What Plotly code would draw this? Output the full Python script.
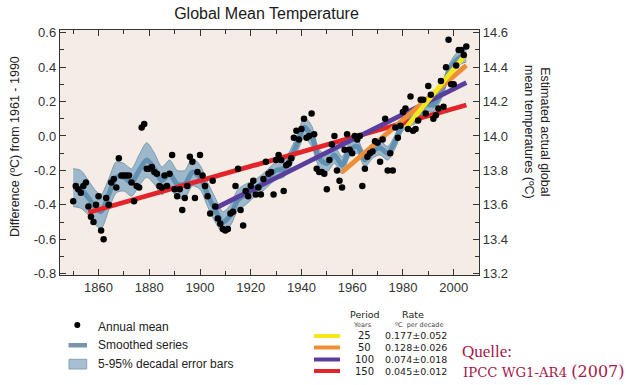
import plotly.graph_objects as go

# ---------------- data ----------------
years = list(range(1850, 2006))
annual_mean = [
    -0.38, -0.29, -0.31, -0.33, -0.29, -0.27, -0.41, -0.47, -0.50, -0.40,   # 1850s
    -0.35, -0.55, -0.60, -0.36, -0.40, -0.27, -0.25, -0.30, -0.13, -0.23,   # 1860s
    -0.23, -0.23, -0.23, -0.27, -0.38, -0.29, -0.30, 0.05, 0.07, -0.19,     # 1870s
    -0.19, -0.18, -0.21, -0.22, -0.29, -0.30, -0.23, -0.29, -0.22, -0.11,   # 1880s
    -0.31, -0.35, -0.31, -0.43, -0.36, -0.29, -0.12, -0.15, -0.36, -0.21,   # 1890s
    -0.11, -0.23, -0.29, -0.35, -0.45, -0.26, -0.41, -0.48, -0.51, -0.54,   # 1900s
    -0.55, -0.54, -0.45, -0.44, -0.29, -0.19, -0.43, -0.52, -0.32, -0.35,   # 1910s
    -0.29, -0.26, -0.34, -0.30, -0.34, -0.25, -0.15, -0.22, -0.21, -0.34,   # 1920s
    -0.14, -0.11, -0.14, -0.32, -0.17, -0.16, -0.13, -0.01, 0.03, -0.02,    # 1930s
    0.04, 0.10, -0.01, 0.00, 0.13, 0.01, -0.19, -0.21, -0.21, -0.22,        # 1940s
    -0.31, -0.14, -0.05, 0.00, -0.20, -0.26, -0.30, -0.08, 0.01, -0.08,     # 1950s
    -0.10, 0.00, -0.02, 0.00, -0.29, -0.19, -0.12, -0.10, -0.09, -0.03,     # 1960s
    -0.04, -0.15, -0.02, 0.10, -0.20, -0.10, -0.20, 0.05, -0.01, 0.06,      # 1970s
    0.14, 0.16, 0.04, 0.23, 0.03, 0.04, 0.09, 0.21, 0.21, 0.13,             # 1980s
    0.29, 0.24, 0.10, 0.12, 0.16, 0.32, 0.17, 0.40, 0.56, 0.30,             # 1990s
    0.30, 0.41, 0.50, 0.50, 0.47, 0.52,                                     # 2000s
]

smooth_years = [1850, 1853, 1856, 1859, 1861, 1864, 1867, 1870, 1873, 1876,
                1879, 1882, 1885, 1888, 1891, 1894, 1897, 1900, 1903, 1906,
                1909, 1912, 1915, 1918, 1921, 1924, 1927, 1930, 1933, 1936,
                1939, 1941, 1944, 1947, 1950, 1953, 1956, 1959, 1962, 1965,
                1968, 1971, 1974, 1977, 1980, 1983, 1986, 1989, 1992, 1995,
                1998, 2001, 2003, 2005]
smooth_vals = [-0.30, -0.31, -0.36, -0.42, -0.44, -0.34, -0.24, -0.24, -0.27, -0.20,
               -0.14, -0.19, -0.26, -0.22, -0.28, -0.28, -0.21, -0.24, -0.34, -0.43,
               -0.50, -0.46, -0.37, -0.34, -0.31, -0.28, -0.24, -0.20, -0.19, -0.12,
               -0.02, 0.05, 0.00, -0.13, -0.16, -0.11, -0.17, -0.08, -0.06, -0.14,
               -0.09, -0.07, -0.10, -0.03, 0.07, 0.10, 0.12, 0.18, 0.18, 0.25,
               0.37, 0.44, 0.46, 0.47]
smooth_halfwidth = [0.11, 0.11, 0.10, 0.10, 0.10, 0.09, 0.09, 0.08, 0.08, 0.09,
                    0.10, 0.09, 0.08, 0.08, 0.08, 0.08, 0.08, 0.07, 0.07, 0.07,
                    0.06, 0.06, 0.06, 0.06, 0.05, 0.05, 0.05, 0.05, 0.05, 0.05,
                    0.05, 0.06, 0.06, 0.05, 0.05, 0.05, 0.05, 0.04, 0.04, 0.04,
                    0.04, 0.04, 0.04, 0.04, 0.04, 0.04, 0.04, 0.04, 0.04, 0.04,
                    0.04, 0.04, 0.04, 0.04]

trend_periods = ["25", "50", "100", "150"]
trend_rates = ["0.177\u00b10.052", "0.128\u00b10.026", "0.074\u00b10.018", "0.045\u00b10.012"]
trend_start_year = [1981, 1956, 1906, 1856]
trend_start_val = [0.045, -0.21, -0.42, -0.445]
trend_end_year = [2005, 2005, 2005, 2005]
trend_end_val = [0.48, 0.41, 0.31, 0.18]
trend_colors = ["#F4E81C", "#EF8E35", "#5A3E9E", "#E3252B"]

x_tick_vals = [1860, 1880, 1900, 1920, 1940, 1960, 1980, 2000]
y_tick_vals = [-0.8, -0.6, -0.4, -0.2, 0.0, 0.2, 0.4, 0.6]
y_tick_text = ["-0.8", "-0.6", "-0.4", "-0.2", "0.0", "0.2", "0.4", "0.6"]
y2_tick_vals = [13.2, 13.4, 13.6, 13.8, 14.0, 14.2, 14.4, 14.6]
y2_tick_text = ["13.2", "13.4", "13.6", "13.8", "14.0", "14.2", "14.4", "14.6"]

# ---------------- geometry helpers ----------------
W, H = 632, 385
L, R, T, B = 60, 479, 30, 275
def px(x):
    return (x - L) / (R - L)
def py(y):
    return (B - y) / (B - T)

FONT = "Liberation Sans, Arial, sans-serif"
VFONT = "DejaVu Sans, Verdana, sans-serif"
SERIF = "DejaVu Serif, Liberation Serif, serif"

fig = go.Figure()

upper = [v + h for v, h in zip(smooth_vals, smooth_halfwidth)]
lower = [v - h for v, h in zip(smooth_vals, smooth_halfwidth)]

fig.add_trace(go.Scatter(x=smooth_years, y=upper, mode="lines",
                         line=dict(color="#7C9AB0", width=1, shape="spline", smoothing=0.8),
                         hoverinfo="skip", showlegend=False))
fig.add_trace(go.Scatter(x=smooth_years, y=lower, mode="lines", fill="tonexty",
                         fillcolor="#9DB8CA",
                         line=dict(color="#7C9AB0", width=1, shape="spline", smoothing=0.8),
                         hoverinfo="skip", showlegend=False))
fig.add_trace(go.Scatter(x=smooth_years, y=smooth_vals, mode="lines",
                         line=dict(color="#6190B0", width=5, shape="spline", smoothing=0.8),
                         hoverinfo="skip", showlegend=False))

for i in [3, 2, 1, 0]:
    fig.add_trace(go.Scatter(x=[trend_start_year[i], trend_end_year[i]],
                             y=[trend_start_val[i], trend_end_val[i]], mode="lines",
                             line=dict(color=trend_colors[i], width=4.8),
                             hoverinfo="skip", showlegend=False))

fig.add_trace(go.Scatter(x=years, y=annual_mean, mode="markers",
                         marker=dict(color="black", size=6.5),
                         hoverinfo="skip", showlegend=False))

# invisible trace to create right axis
fig.add_trace(go.Scatter(x=[1900], y=[14.0], yaxis="y2", mode="markers",
                         marker=dict(opacity=0), hoverinfo="skip", showlegend=False))

axis_col = "#333333"
fig.update_layout(
    width=W, height=H,
    margin=dict(l=L, r=W - R, t=T, b=H - B),
    paper_bgcolor="white",
    plot_bgcolor="#F5EDE5",
    showlegend=False,
    hovermode=False,
    title=dict(text="Global Mean Temperature", x=266.5 / W, xanchor="center",
               y=1 - 13.5 / H, yanchor="middle",
               font=dict(family=FONT, size=16, color="#1a1a1a")),
    xaxis=dict(range=[1844.8, 2010.0], tickmode="array", tickvals=x_tick_vals,
               ticks="inside", ticklen=6, tickwidth=1, tickcolor=axis_col,
               minor=dict(dtick=10, tick0=1850, ticks="inside", ticklen=4, tickcolor=axis_col),
               showline=True, linecolor=axis_col, linewidth=1.2, mirror="ticks",
               showgrid=False, zeroline=False,
               tickfont=dict(family=FONT, size=13, color="#333")),
    yaxis=dict(range=[-0.808, 0.616], tickmode="array", tickvals=y_tick_vals,
               ticktext=y_tick_text,
               ticks="inside", ticklen=6, tickwidth=1, tickcolor=axis_col,
               minor=dict(dtick=0.1, tick0=0, ticks="inside", ticklen=4, tickcolor=axis_col),
               showline=True, linecolor=axis_col, linewidth=1.2,
               showgrid=False, zeroline=False,
               tickfont=dict(family=FONT, size=13, color="#333")),
    yaxis2=dict(range=[13.192, 14.616], overlaying="y", side="right",
                tickmode="array", tickvals=y2_tick_vals, ticktext=y2_tick_text,
                ticks="inside", ticklen=6, tickwidth=1, tickcolor=axis_col,
                minor=dict(dtick=0.1, tick0=13.2, ticks="inside", ticklen=4, tickcolor=axis_col),
                showline=True, linecolor=axis_col, linewidth=1.2,
                showgrid=False, zeroline=False,
                tickfont=dict(family=FONT, size=13, color="#333")),
)

ann = []
def text(x, y, s, size=12, family=FONT, color="#222", xanchor="left", angle=0):
    ann.append(dict(x=px(x), y=py(y), xref="paper", yref="paper", text=s,
                    showarrow=False, xanchor=xanchor, yanchor="middle",
                    textangle=angle, font=dict(family=family, size=size, color=color)))

text(15, 147, "Difference (\u00baC) from 1961 - 1990", size=12.5, xanchor="center", angle=-90)
text(537, 132, "Estimated actual global<br>mean temperatures (\u00baC)", size=12.5,
     xanchor="center", angle=90)

# left legend
text(96, 327, "Annual mean", size=12)
text(96, 345, "Smoothed series", size=12)
text(96, 363.5, "5-95% decadal error bars", size=12)

shapes = []
shapes.append(dict(type="circle", xref="paper", yref="paper",
                   x0=px(74.3), x1=px(80.3), y0=py(322), y1=py(328),
                   fillcolor="black", line=dict(width=0)))
shapes.append(dict(type="rect", xref="paper", yref="paper",
                   x0=px(68.5), x1=px(87), y0=py(343), y1=py(347.5),
                   fillcolor="#7596AE", line=dict(width=0)))
shapes.append(dict(type="rect", xref="paper", yref="paper",
                   x0=px(69), x1=px(86.7), y0=py(359.3), y1=py(369),
                   fillcolor="#A7C0D1", line=dict(width=1, color="#86A2B7")))

# trend legend
text(364.5, 314, "Period", size=9.5, family=VFONT, xanchor="center")
text(413, 314, "Rate", size=9.5, family=VFONT, xanchor="center")
text(362, 324.5, "Years", size=6.5, family=VFONT, xanchor="center", color="#444")
text(419, 324.5, "\u00baC  per decade", size=6.5, family=VFONT, xanchor="center", color="#444")
legend_y = [336, 347.5, 359.5, 371]
for i in range(4):
    shapes.append(dict(type="line", xref="paper", yref="paper",
                       x0=px(314), x1=px(340), y0=py(legend_y[i]), y1=py(legend_y[i]),
                       line=dict(color=trend_colors[i], width=4)))
    text(364, legend_y[i], trend_periods[i], size=10, family=VFONT, xanchor="center")
    text(416, legend_y[i], trend_rates[i], size=9.5, family=VFONT, xanchor="center")

text(460, 351, "Quelle:", size=17, family="Liberation Serif, serif", color="#A8174B")
text(461, 372, "IPCC WG1-AR4 <span style='font-size:16px'>(2007)</span>", size=13.3,
     family=SERIF, color="#A8174B")

fig.update_layout(annotations=ann, shapes=shapes)
fig.write_html("out.html", config={"displayModeBar": False, "staticPlot": True},
               post_script="document.body.style.margin='0px';")
